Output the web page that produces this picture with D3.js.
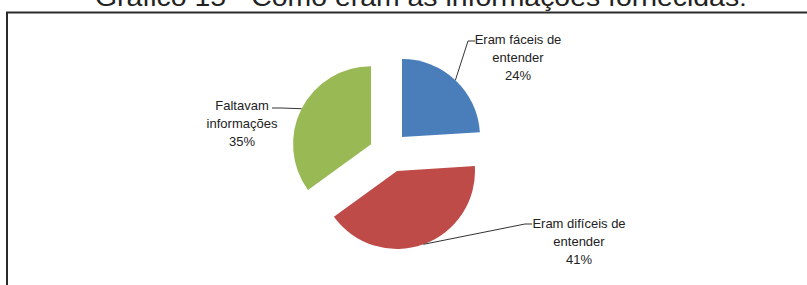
<!DOCTYPE html>
<html>
<head>
<meta charset="utf-8">
<script src="https://cdn.jsdelivr.net/npm/d3@7"></script>
<style>
    body { margin: 0; background: #fff; }
    svg { display: block; }
</style>
</head>
<body>
<svg id="svg" width="807" height="285"></svg>
<script>
    // dados do gráfico
    var titulo = "Gráfico 15 - Como eram as informações fornecidas:";
    var categorias = ["Eram fáceis de entender", "Eram difíceis de entender", "Faltavam informações"];
    var valores = [24, 41, 35];
    var rotulos = [["Eram fáceis de", "entender", "24%"],
                   ["Eram difíceis de", "entender", "41%"],
                   ["Faltavam", "informações", "35%"]];
    var cores = ["#4a7ebb", "#be4b48", "#98b954"];

    // layout
    var cx = 389, cy = 141, raio = 78;
    // deslocamento de cada fatia: distância e direção (graus, a partir do topo)
    var explode = [{d: 13.6, a: 73}, {d: 31, a: 165}, {d: 18.2, a: 260}];
    // posição dos rótulos: centro do texto, primeira linha, lado do conector
    var posRotulo = [
        {x: 518, y: 44, lado: "esq", ancora: 475, ly: 41},
        {x: 579, y: 228, lado: "esq", ancora: 532, ly: 224},
        {x: 242, y: 110, lado: "dir", ancora: 272, ly: 108}
    ];
    var passo = 18;

    var svg = d3.select("#svg");

    // título (cortado no topo, como na página original)
    svg.append("text")
        .attr("x", 95).attr("y", 5.5)
        .attr("font-family", "'Liberation Sans', Arial, sans-serif")
        .attr("font-size", 26)
        .attr("fill", "#222")
        .attr("textLength", 652)
        .attr("lengthAdjust", "spacingAndGlyphs")
        .text(titulo);

    // moldura
    svg.append("path")
        .attr("d", "M7,290 L7,12.5 L810,12.5")
        .attr("fill", "none")
        .attr("stroke", "#2b2b2b")
        .attr("stroke-width", 2);

    var pie = d3.pie().sort(null).value(function(d) { return d; });
    var arcos = pie(valores);
    var arc = d3.arc().innerRadius(0).outerRadius(raio);

    var g = svg.append("g").attr("transform", "translate(" + cx + "," + cy + ")");

    function dir(a) { return [Math.sin(a), -Math.cos(a)]; }

    arcos.forEach(function(d, i) {
        var meio = (d.startAngle + d.endAngle) / 2;
        var e = dir(explode[i].a * Math.PI / 180);
        var u = dir(meio);
        d.off = [e[0] * explode[i].d, e[1] * explode[i].d];
        d.borda = [d.off[0] + u[0] * raio, d.off[1] + u[1] * raio];
    });

    g.selectAll(".fatia").data(arcos).enter()
        .append("path").attr("class", "fatia")
        .attr("transform", function(d) { return "translate(" + d.off[0] + "," + d.off[1] + ")"; })
        .attr("d", arc)
        .attr("fill", function(d, i) { return cores[i]; });

    // conectores
    svg.selectAll(".conector").data(arcos).enter()
        .append("polyline").attr("class", "conector")
        .attr("points", function(d, i) {
            var p = posRotulo[i];
            var bx = cx + d.borda[0], by = cy + d.borda[1];
            var k = p.lado == "esq" ? p.ancora - 7 : p.ancora + 10;
            return bx + "," + by + " " + k + "," + p.ly + " " + p.ancora + "," + p.ly;
        })
        .attr("fill", "none")
        .attr("stroke", "#333")
        .attr("stroke-width", 1);

    // rótulos
    var rot = svg.selectAll(".rotulo").data(rotulos).enter()
        .append("text").attr("class", "rotulo")
        .attr("font-family", "'Liberation Sans', Arial, sans-serif")
        .attr("font-size", 13)
        .attr("fill", "#222")
        .attr("text-anchor", "middle");
    rot.each(function(linhas, i) {
        var t = d3.select(this), p = posRotulo[i];
        linhas.forEach(function(l, j) {
            t.append("tspan").attr("x", p.x).attr("y", p.y + j * passo).text(l);
        });
    });
</script>
</body>
</html>
